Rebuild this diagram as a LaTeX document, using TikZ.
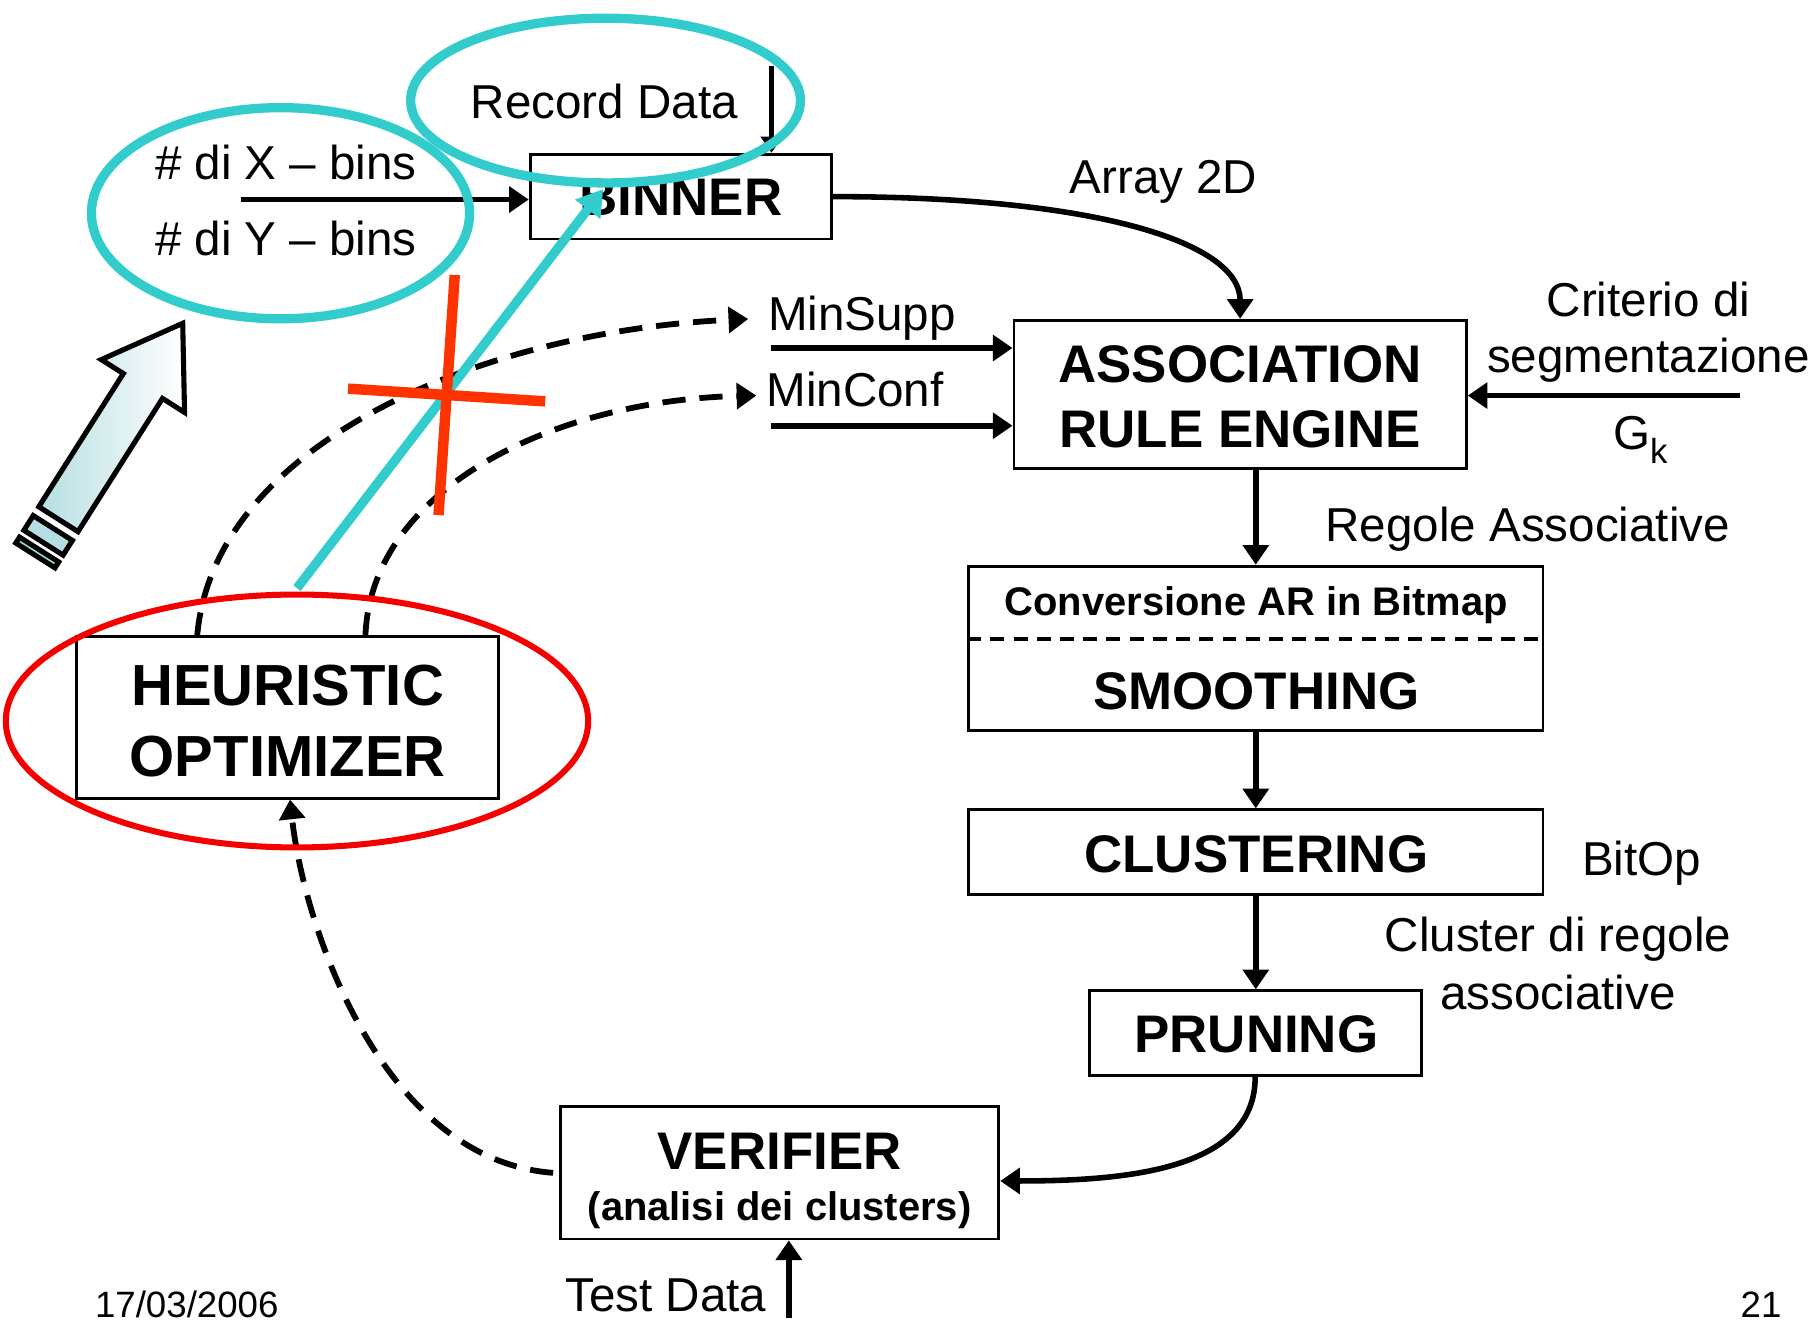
\documentclass[tikz,border=0pt]{standalone}
\usepackage{fontspec}
\setmainfont{Liberation Sans}
\usetikzlibrary{arrows.meta,fit}

\definecolor{ringteal}{RGB}{51,204,204}
\definecolor{ringred}{RGB}{245,0,0}
\definecolor{crossred}{RGB}{255,51,0}
\definecolor{tailteal}{RGB}{182,222,226}

\newcommand\fsnorm{\fontsize{20.5pt}{24pt}\selectfont}
\newcommand\fsbold{\fontsize{22.8pt}{27pt}\selectfont\bfseries}
\newcommand\fsbig{\fontsize{25pt}{30pt}\selectfont\bfseries}
\newcommand\fssmallbold{\fontsize{17.2pt}{20pt}\selectfont\bfseries}
\newcommand\fsfoot{\fontsize{15.8pt}{19pt}\selectfont}

\begin{document}
\begin{tikzpicture}[x=0.5pt, y=-0.5pt,
  box/.style={draw, line width=1.2pt, inner sep=0pt},
  lbl/.style={anchor=base, inner sep=0pt, font=\fsnorm},
  blbl/.style={anchor=base, inner sep=0pt, font=\fsbold},
  biglbl/.style={anchor=base, inner sep=0pt, font=\fsbig},
  sblbl/.style={anchor=base, inner sep=0pt, font=\fssmallbold},
  footlbl/.style={anchor=base, inner sep=0pt, font=\fsfoot},
  flow/.style={line width=2.4pt, -{Triangle[length=8.5pt, width=11pt]}},
  thinflow/.style={line width=1.8pt, -{Triangle[length=7pt, width=9pt]}},
  dashflow/.style={line width=2.5pt, dash pattern=on 10pt off 6pt,
    -{Triangle[length=8.5pt, width=11pt]}},
  tealline/.style={draw=ringteal, line width=4pt},
  crossline/.style={draw=crossred, line width=4.5pt}]

\useasboundingbox (0,0) rectangle (1568,1139);

% ---------- blocks ----------
\node[box, fit={(457,133) (717,206)}] (binner) {};
\node[box, fit={(874,276) (1264,404)}] (are) {};
\node[box, fit={(835,488) (1330,630)}] (smooth) {};
\node[box, fit={(835,698) (1330,771)}] (clust) {};
\node[box, fit={(939,854) (1225,927)}] (prun) {};
\node[box, fit={(483,954) (861,1068)}] (verif) {};
\node[box, fit={(66,549) (430,688)}] (heur) {};

% divider inside the conversion / smoothing block
\draw[line width=1.6pt, dash pattern=on 6pt off 4pt]
  (smooth.west |- 0,551) -- (smooth.east |- 0,551);

% ---------- block texts ----------
\node[blbl] (tbinner) at (587,186) {BINNER};
\node[blbl] (tare1) at (1069,329.5) {ASSOCIATION};
\node[blbl] (tare2) at (1069,385.5) {RULE ENGINE};
\node[sblbl] (tconv) at (1083,530.3) {Conversione AR in Bitmap};
\node[blbl] (tsmooth) at (1083,611.4) {SMOOTHING};
\node[blbl] (tclust) at (1083,752.4) {CLUSTERING};
\node[blbl] (tprun) at (1083,907.4) {PRUNING};
\node[blbl] (tverif) at (672,1008.4) {VERIFIER};
\node[sblbl] (tverif2) at (672,1052.3) {(analisi dei clusters)};
\node[biglbl] (theur1) at (248,608) {HEURISTIC};
\node[biglbl] (theur2) at (248,669) {OPTIMIZER};

% ---------- free labels ----------
\node[lbl] (trecord) at (521,102.5) {Record Data};
\node[lbl] (tbinx) at (246.5,154.5) {\# di X – bins};
\node[lbl] (tbiny) at (246.5,220.5) {\# di Y – bins};
\node[lbl] (tarray) at (1003,166.5) {Array 2D};
\node[lbl] (tsupp) at (743,284.5) {MinSupp};
\node[lbl] (tconf) at (737,350.5) {MinConf};
\node[lbl] (tcrit1) at (1421,272.5) {Criterio di};
\node[lbl] (tcrit2) at (1421,321.5) {segmentazione};
\node[lbl] (tgk) at (1414,387.5) {G\raisebox{-0.3em}{\fontsize{15pt}{18pt}\selectfont k}};
\node[lbl] (tregole) at (1317,466.5) {Regole Associative};
\node[lbl] (tbitop) at (1415,754.5) {BitOp};
\node[lbl] (tclr1) at (1343,820.5) {Cluster di regole};
\node[lbl] (tclr2) at (1343,870.5) {associative};
\node[lbl] (ttest) at (574,1130.5) {Test Data};
\node[footlbl] (tdate) at (161,1135.5) {17/03/2006};
\node[footlbl] (tpage) at (1518,1135.5) {21};

% ---------- connector end points ----------
\coordinate (binsin) at (208,172);
\coordinate (recin) at (665,57);
\coordinate (suppin) at (665,300);
\coordinate (confin) at (665,367);
\coordinate (critin) at (1500,341);
\coordinate (testin) at (680,1136);
\coordinate (suppend) at (645,275);
\coordinate (confend) at (652,341);

% ---------- solid connectors ----------
\draw[flow] (binsin) -- (binsin -| binner.west);
\draw[thinflow] (recin) -- (recin |- binner.north);
\draw[flow] (binner.east) .. controls +(230,0) and +(0,-65) .. (are.north);
\draw[flow] (suppin) -- (suppin -| are.west);
\draw[flow] (confin) -- (confin -| are.west);
\draw[flow] (critin) -- (critin -| are.east);
\draw[flow] (are.south -| smooth.north) -- (smooth.north);
\draw[flow] (smooth.south) -- (clust.north);
\draw[flow] (clust.south) -- (clust.south |- prun.north);
\draw[flow] (prun.south) .. controls +(0,80) and +(110,0) .. ([yshift=-3.5pt]verif.east);
\draw[flow] (testin) -- (testin |- verif.south);

% ---------- dashed feedback ----------
\draw[dashflow] ([xshift=-2.5pt]verif.west) .. controls (330,1000) and (262,800) .. ([xshift=1pt]heur.south);
\draw[dashflow] ([xshift=-39pt]heur.north) .. controls (185,380) and (420,285) .. (suppend);
\draw[dashflow] ([xshift=33.5pt]heur.north) .. controls (320,420) and (480,345) .. (confend);

% ---------- highlight rings ----------
\draw[draw=ringred, line width=2.6pt] (256,621.5) ellipse [x radius=125.5pt, y radius=54.5pt];

% striped block arrow, drawn along its own axis (tip at the origin)
\begin{scope}[shift={(157.5,278.7)}, rotate=57.6, line width=2.2pt, line join=miter]
  \path[draw=black, left color=tailteal, right color=white]
    (0,0) -- (-64,-42.5) -- (-64,-20) -- (-200,-20) -- (-200,20) -- (-64,20) -- (-64,42.5) -- cycle;
  \path[draw=black, fill=tailteal] (-209,-20) rectangle (-224,20);
  \path[draw=black, fill=tailteal!80!ringteal] (-231,-20) rectangle (-237,20);
\end{scope}

\draw[tealline] (241.8,183.8) ellipse [x radius=81.5pt, y radius=45.5pt];
\draw[tealline] (522,86.7) ellipse [x radius=84pt, y radius=35.5pt];

\coordinate (tealfrom) at (256,507);
\coordinate (tealto) at (520,163);
\draw[tealline, -{Triangle[length=11pt, width=13pt]}] (tealfrom) -- (tealto);

% ---------- cancelled link ----------
\coordinate (xa) at (392,237);
\coordinate (xb) at (378,444);
\coordinate (xc) at (300,335);
\coordinate (xd) at (470,346);
\draw[crossline] (xa) -- (xb);
\draw[crossline] (xc) -- (xd);

\end{tikzpicture}
\end{document}
